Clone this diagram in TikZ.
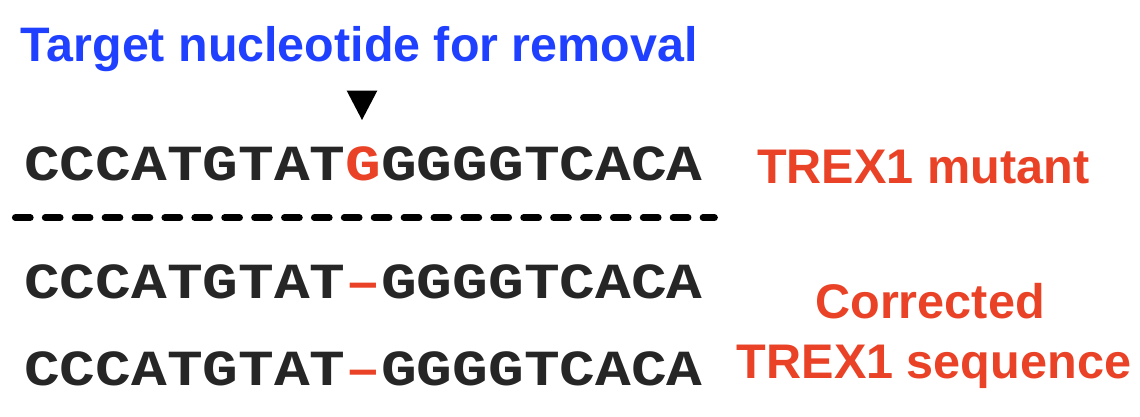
\documentclass[tikz,border=0pt]{standalone}
\usepackage{fontspec}
\usepackage{graphicx}
\setmainfont{Liberation Sans}
\newfontfamily\seqfont{Liberation Mono}
\usepackage{tikz}
\definecolor{dnablue}{RGB}{31,64,255}
\definecolor{dnared}{RGB}{233,66,38}
\definecolor{dnadark}{RGB}{38,38,38}
\newcommand{\seqtext}[1]{\scalebox{1}[0.85]{#1}}

\begin{document}
\begin{tikzpicture}[x=1pt,y=-1pt,
  seq/.style={anchor=base west,inner sep=0pt,text=dnadark,font=\seqfont\bfseries\fontsize{59.5}{60}\selectfont},
  lbl/.style={inner sep=0pt,text=dnared,font=\bfseries\fontsize{48.6}{58}\selectfont}]
  \useasboundingbox (0,0) rectangle (1140,417);
  \node[anchor=base west,inner sep=0pt,text=dnablue,font=\bfseries\fontsize{48.4}{48}\selectfont] (title) at (20.5,62) {Target nucleotide for removal};
  \fill (346.7,90.7) -- (377.3,90.7) -- (362,120) -- cycle;
  \node[seq] (mut) at (24,180) {\seqtext{CCCATGTAT\textcolor{dnared}{G}GGGGTCACA}};
  \draw[line width=6.7pt,dash pattern=on 15pt off 14.9pt,line cap=round] (15.3,217.7) -- (714.5,217.7);
  \foreach \y/\n in {298/fixa,385/fixb}
    \node[seq] (\n) at (24,\y) {\seqtext{CCCATGTAT\textcolor{dnared}{–}GGGGTCACA}};
  \node[lbl,anchor=base west] (mutlbl) at (757,183) {TREX1 mutant};
  \node[lbl,anchor=base] (fixlbla) at (930,318) {Corrected};
  \node[lbl,anchor=base] (fixlblb) at (934,378) {TREX1 sequence};
\end{tikzpicture}
\end{document}
